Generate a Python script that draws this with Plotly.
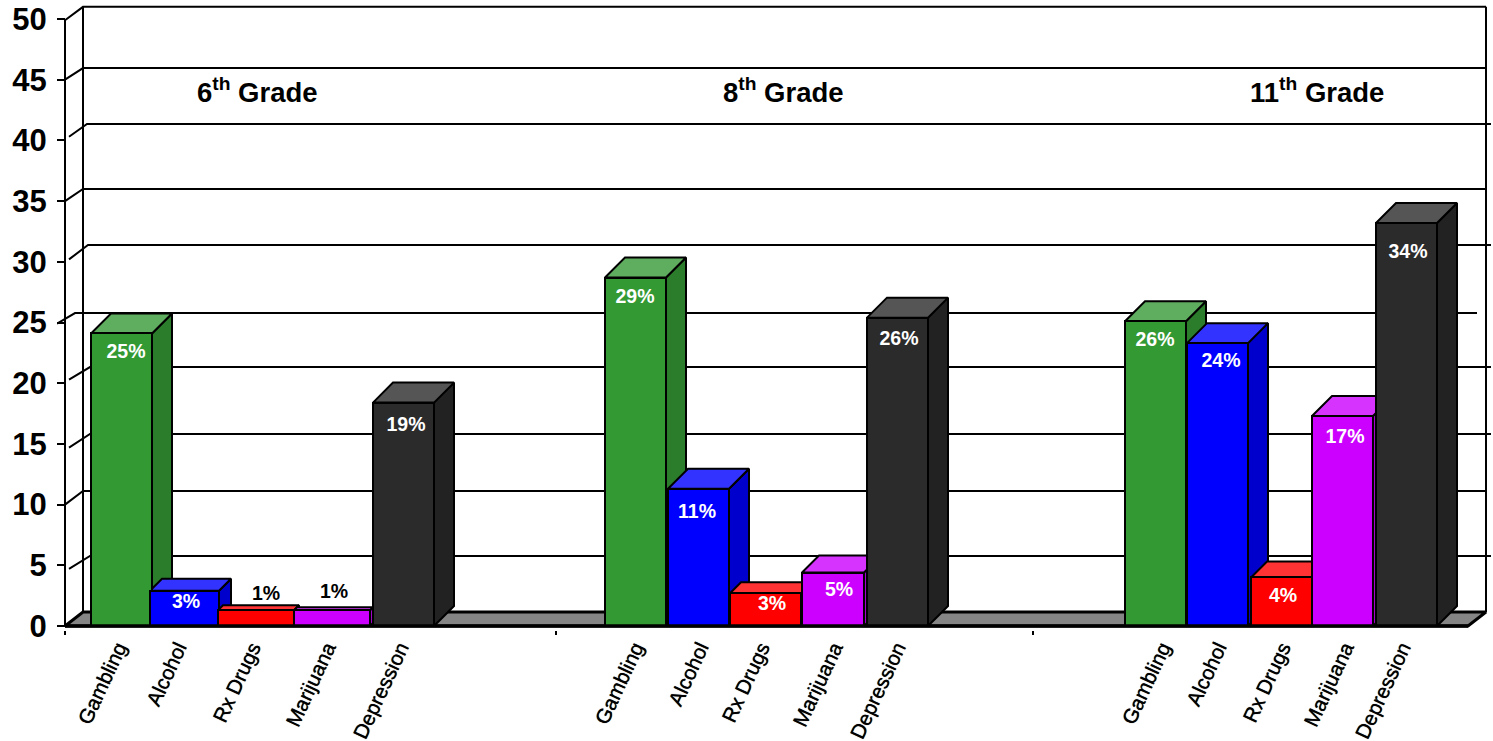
import plotly.graph_objects as go

# ---- data ----
grades = ["6<sup>th</sup> Grade", "8<sup>th</sup> Grade", "11<sup>th</sup> Grade"]
measures = ["Gambling", "Alcohol", "Rx Drugs", "Marijuana", "Depression"]
bars_6th = [24.1, 2.9, 1.3, 1.3, 18.4]
bars_8th = [28.7, 11.3, 2.7, 4.4, 25.4]
bars_11th = [25.1, 23.3, 4.0, 17.3, 33.2]
labels_6th = ["25%", "3%", "1%", "1%", "19%"]
labels_8th = ["29%", "11%", "3%", "5%", "26%"]
labels_11th = ["26%", "24%", "4%", "17%", "34%"]
y_ticks = [0, 5, 10, 15, 20, 25, 30, 35, 40, 45, 50]

# ---- styles and placement (x units equal screen pixels) ----
PX = 607 / 50  # screen pixels per value unit
front = ["#339933", "#0000FF", "#FF0000", "#CC00FF", "#2B2B2B"]
side = ["#2B7D2B", "#0000CC", "#CC0000", "#A300CC", "#222222"]
top = ["#5FAD5F", "#3333FF", "#FF3333", "#D633FF", "#555555"]

lefts = [[91, 150, 218, 294, 373], [605, 668, 730, 802, 867], [1125, 1187, 1251, 1312, 1376]]
rights = [[152, 219, 294, 370, 434], [666, 729, 801, 864, 928], [1186, 1248, 1312, 1373, 1437]]
depths = [[20, 12, 5, 3, 20], [20, 20, 11, 17, 20], [20, 20, 16, 20, 20]]
label_x = [[126, 186, 266, 334, 406], [635, 697, 772, 839, 899], [1155, 1221, 1283, 1345, 1408]]
label_drop = [[20, 12, -15, -17, 24], [21, 24, 12, 19, 22], [20, 19, 20, 22, 30]]
tick_x = [[118, 178, 252, 327, 400], [635, 700, 761, 834, 897], [1162, 1218, 1282, 1345, 1402]]
grade_x = [257, 783, 1317]
sep_ticks = [65, 556, 1033]

# back wall lines: level on the wall, start x, end x, front stub x, front stub level
wall_level = [51.0, 45.96, 41.35, 36.0, 31.38, 25.78, 21.33, 15.82, 11.12, 5.77]
wall_start = [83, 83, 87, 83, 88, 75, 90, 90, 83, 90]
wall_end = [1486, 1486, 1491, 1486, 1491, 1477, 1491, 1491, 1486, 1491]
stub_x = [65, 65, 69, 65, 69, 57, 69, 69, 65, 69]
stub_level = [49.9, 45.0, 40.3, 35.0, 30.2, 24.9, 20.3, 14.7, 10.0, 4.7]
X0, X_WALL, X_END, X_WALLR = 65, 83, 1468, 1486
X_MIN, X_MAX = 57, 1493
WALL_D = 14 / PX

BLACK = "#000000"
FONT = "Liberation Sans, Arial, sans-serif"
fig = go.Figure()


def poly(xs, ys, fill, lw=2.0):
    fig.add_trace(go.Scatter(x=xs, y=ys, mode="lines", fill="toself", fillcolor=fill,
                             line=dict(color=BLACK, width=lw), hoverinfo="skip", showlegend=False))


# wall grid
gx, gy = [], []
for lv, s, e, sx, sl in zip(wall_level, wall_start, wall_end, stub_x, stub_level):
    gx += [sx, s, e, None]
    gy += [sl, lv, lv, None]
fig.add_trace(go.Scatter(x=gx, y=gy, mode="lines", line=dict(color=BLACK, width=2),
                         hoverinfo="skip", showlegend=False))
# back wall verticals and the value axis line
fig.add_trace(go.Scatter(x=[X_WALL, X_WALL, None, X_WALLR, X_WALLR, None, X0, X0],
                         y=[WALL_D, wall_level[0], None, WALL_D, wall_level[0], None, 0, 50],
                         mode="lines", line=dict(color=BLACK, width=2),
                         hoverinfo="skip", showlegend=False))
# floor
poly([X0, X_WALL, X_WALLR, X_END, X0], [0, WALL_D, WALL_D, 0, 0], "#858585", lw=3)

# side and top faces of every bar, behind the front faces
for values, ls, rs, ds in zip([bars_6th, bars_8th, bars_11th], lefts, rights, depths):
    for i, v in enumerate(values):
        l, r, d = ls[i], rs[i], ds[i]
        dv = d / PX
        poly([r, r + d, r + d, r, r], [0, dv, v + dv, v, 0], side[i])
        poly([l, l + d, r + d, r, l], [v, v + dv, v + dv, v, v], top[i])

# front faces on the overlaid axes
for group, values, ls, rs in zip(grades, [bars_6th, bars_8th, bars_11th], lefts, rights):
    fig.add_trace(go.Bar(
        x=[(a + b) / 2 for a, b in zip(ls, rs)], y=values,
        width=[b - a for a, b in zip(ls, rs)],
        marker=dict(color=front, line=dict(color=BLACK, width=2)),
        xaxis="x2", yaxis="y2", showlegend=False, name=group, hoverinfo="skip"))

# baseline
fig.add_trace(go.Scatter(x=[X0, X_END], y=[0, 0], mode="lines", line=dict(color=BLACK, width=3.5),
                         xaxis="x2", yaxis="y2", hoverinfo="skip", showlegend=False))

# value labels
for values, labels, xs, drops in zip([bars_6th, bars_8th, bars_11th],
                                     [labels_6th, labels_8th, labels_11th], label_x, label_drop):
    fig.add_trace(go.Scatter(
        x=xs, y=[v - d / PX for v, d in zip(values, drops)], text=labels, mode="text",
        textfont=dict(family=FONT, size=19.5, color=["white" if d > 0 else BLACK for d in drops],
                      weight="bold"),
        xaxis="x2", yaxis="y2", hoverinfo="skip", showlegend=False, cliponaxis=False))

# group titles
for g, x in zip(grades, grade_x):
    fig.add_annotation(x=x, y=44.15, xref="x", yref="y", text=g, showarrow=False,
                       font=dict(family=FONT, size=27.5, color=BLACK, weight="bold"))

y_range = [-4 / PX, 626 / PX]
x_range = [X_MIN, X_MAX]
fig.update_layout(
    width=1493, height=741, margin=dict(l=X_MIN, r=0, t=0, b=111, autoexpand=False),
    paper_bgcolor="white", plot_bgcolor="white", barmode="overlay", bargap=0,
    showlegend=False,
    xaxis=dict(range=x_range, showgrid=False, zeroline=False, showline=False, ticks="",
               automargin=False,
               tickmode="array", tickvals=[x for g in tick_x for x in g],
               ticktext=measures * 3, tickangle=-65, ticklabelstandoff=1,
               tickfont=dict(family=FONT, size=20.5, color=BLACK, shadow="0 0 0.7px #000")),
    yaxis=dict(range=y_range, anchor="free", position=(X0 - X_MIN) / (X_MAX - X_MIN),
               showgrid=False, zeroline=False, showline=False, automargin=False,
               ticks="outside", ticklen=8, tickwidth=2, tickcolor=BLACK,
               tickmode="array", tickvals=y_ticks, ticklabelstandoff=4,
               tickfont=dict(family=FONT, size=31, color=BLACK, weight="bold")),
    xaxis2=dict(range=x_range, overlaying="x", anchor="y2", showgrid=False, zeroline=False,
                showline=False, ticks="outside", ticklen=4, tickwidth=2, tickcolor=BLACK,
                tickmode="array", tickvals=sep_ticks, showticklabels=False),
    yaxis2=dict(range=y_range, overlaying="y", anchor="x2", visible=False),
)

fig.write_html("out.html", config={"displayModeBar": False},
               post_script="document.body.style.margin='0';document.body.style.overflow='hidden';")
